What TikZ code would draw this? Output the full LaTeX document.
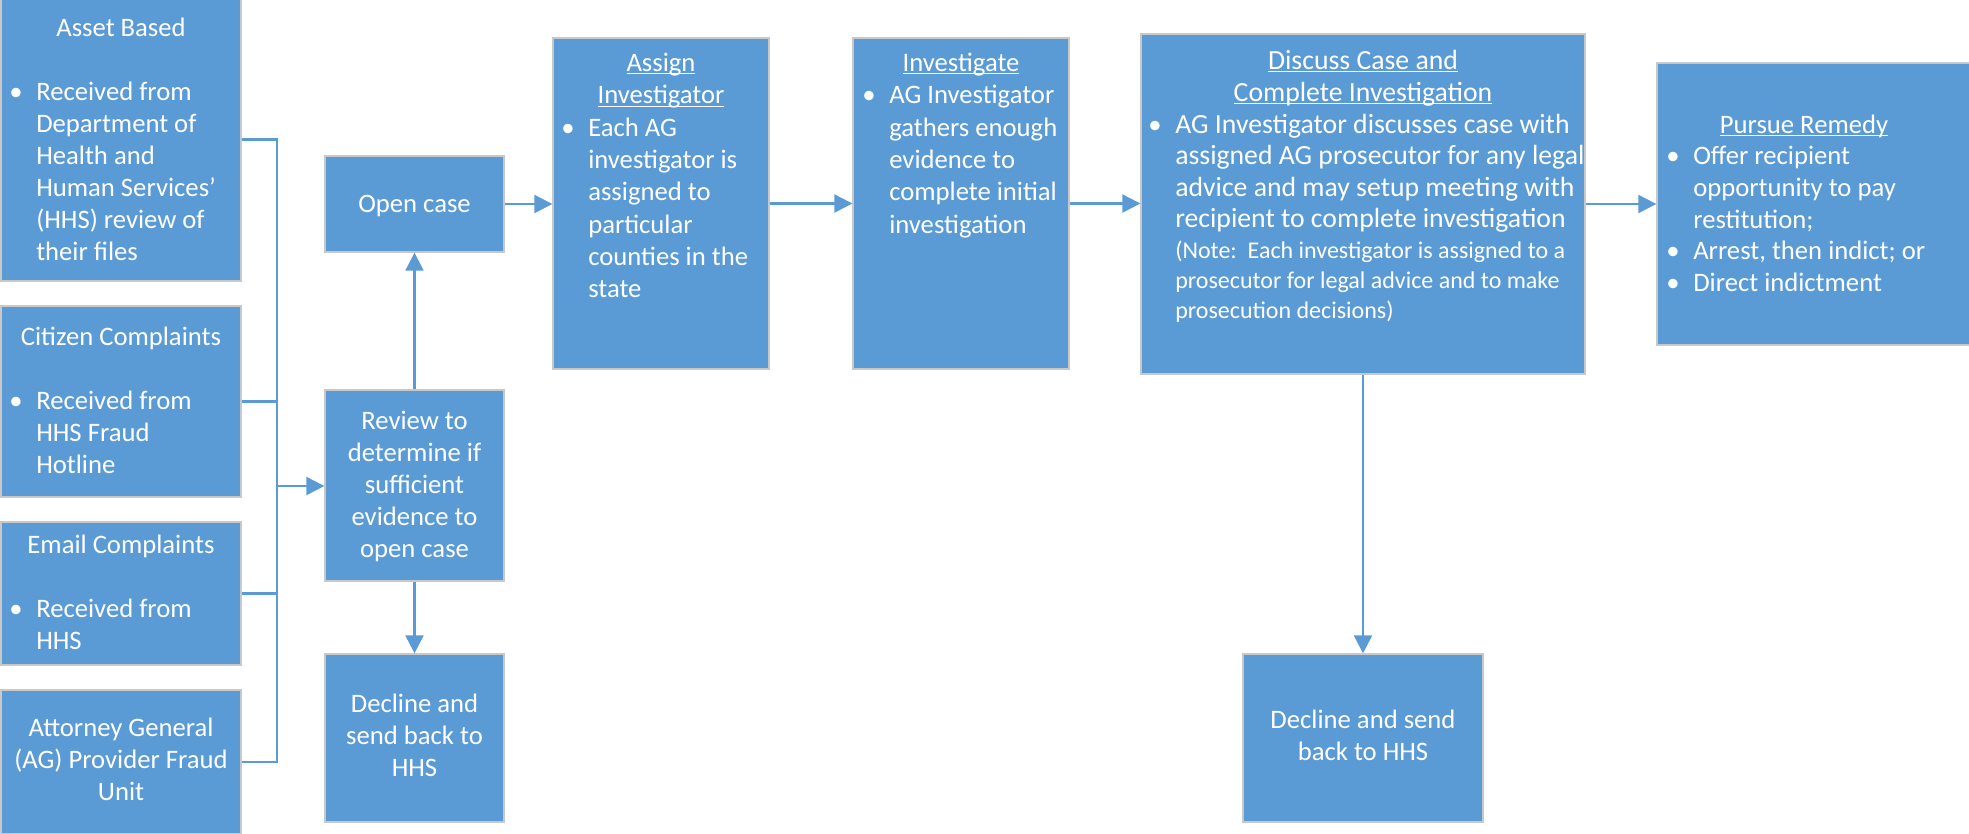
\documentclass[tikz,border=0pt]{standalone}
\usepackage{fontspec}
\setmainfont{Carlito}
\usetikzlibrary{arrows.meta,fit}
\definecolor{boxblue}{HTML}{5B9BD5}
\definecolor{edgegray}{HTML}{C8C8C8}
\newcounter{tl}
\newlength\ulw
\newcommand\myul[1]{\settowidth{\ulw}{#1}\rlap{\rule[-2.6pt]{\ulw}{0.8pt}}#1}
\newcommand\mainsize{\fontsize{20pt}{24pt}\selectfont}
\newcommand\discsize{\fontsize{20.8pt}{24pt}\selectfont}
\newcommand\notesize{\fontsize{18pt}{20pt}\selectfont}
% centred line
\newcommand\tc[3]{\stepcounter{tl}\node[txt,anchor=base] (t\thetl) at (#1,#2) {#3};}
% left line
\newcommand\tw[3]{\stepcounter{tl}\node[txt,anchor=base west] (t\thetl) at (#1,#2) {#3};}
% bulleted line
\newcommand\tb[3]{\stepcounter{tl}\node[txt,anchor=base] (b\thetl) at ({#1-20},#2) {•};\node[txt,anchor=base west] (t\thetl) at (#1,#2) {#3};}
\begin{document}
\begin{tikzpicture}[x=0.75pt,y=-0.75pt,
  box/.style={draw=edgegray,line width=1pt,fill=boxblue,inner sep=0pt},
  txt/.style={text=white,inner sep=0pt,font=\mainsize},
  ln/.style={draw=boxblue,line width=1.6pt},
  arr/.style={ln,-{Triangle[length=13.5pt,width=13.5pt]}}]
\useasboundingbox (0,0) rectangle (1969,833);

% boxes
\node[box,fit={(1,-2) (241,281)}] (asset) {};
\node[box,fit={(1,306) (241,497)}] (citizen) {};
\node[box,fit={(1,522) (241,665)}] (email) {};
\node[box,fit={(1,690) (241,834)}] (attorney) {};
\node[box,fit={(325,156) (504,252)}] (open) {};
\node[box,fit={(325,390) (504,581)}] (review) {};
\node[box,fit={(325,654) (504,822)}] (decline1) {};
\node[box,fit={(553,38) (769,369)}] (assign) {};
\node[box,fit={(853,38) (1069,369)}] (invest) {};
\node[box,fit={(1141,34) (1585,374)}] (discuss) {};
\node[box,fit={(1657,63) (1975,345)}] (pursue) {};
\node[box,fit={(1243,654) (1483,822)}] (decline2) {};

% connectors
\coordinate (bus) at (277,486);
\draw[ln] (asset.east) -| (bus);
\draw[ln] (citizen.east) -| (bus);
\draw[ln] (email.east) -| (bus);
\draw[ln] (attorney.east) -| (bus);
\draw[arr] (bus) -- (bus -| review.west);
\draw[arr] (review.north) -- (open.south);
\draw[arr] (review.south) -- (decline1.north);
\draw[arr] (open.east) -- (open.east -| assign.west);
\draw[arr] (assign.east) -- (assign.east -| invest.west);
\draw[arr] (invest.east) -- (invest.east -| discuss.west);
\draw[arr] (discuss.east) -- (discuss.east -| pursue.west);
\draw[arr] (discuss.south) -- (decline2.north);

% Asset Based
\tc{121}{36}{Asset Based}
\tb{36}{100}{Received from}
\tw{36}{132}{Department of}
\tw{36}{164}{Health and}
\tw{36}{196}{Human Services’}
\tw{36}{228}{(HHS) review of}
\tw{36}{260}{their files}
% Citizen
\tc{121}{345}{Citizen Complaints}
\tb{36}{409}{Received from}
\tw{36}{441}{HHS Fraud}
\tw{36}{473}{Hotline}
% Email
\tc{121}{553}{Email Complaints}
\tb{36}{617}{Received from}
\tw{36}{649}{HHS}
% Attorney
\tc{121}{736}{Attorney General}
\tc{121}{768}{(AG) Provider Fraud}
\tc{121}{800}{Unit}
% Open case
\tc{414.5}{212}{Open case}
% Review
\tc{414.5}{429}{Review to}
\tc{414.5}{461}{determine if}
\tc{414.5}{493}{sufficient}
\tc{414.5}{525}{evidence to}
\tc{414.5}{557}{open case}
% Decline 1
\tc{414.5}{712}{Decline and}
\tc{414.5}{744}{send back to}
\tc{414.5}{776}{HHS}
% Assign
\tc{661}{71}{\myul{Assign}}
\tc{661}{103.5}{\myul{Investigator}}
\tb{588}{136}{Each AG}
\tw{588}{168}{investigator is}
\tw{588}{200.5}{assigned to}
\tw{588}{233}{particular}
\tw{588}{265}{counties in the}
\tw{588}{297.5}{state}
% Investigate
\tc{961}{71}{\myul{Investigate}}
\tb{889}{103.5}{AG Investigator}
\tw{889}{136}{gathers enough}
\tw{889}{168}{evidence to}
\tw{889}{200.5}{complete initial}
\tw{889}{233}{investigation}
% Discuss
\tc{1363}{69}{\discsize\myul{Discuss Case and}}
\tc{1363}{101}{\discsize\myul{Complete Investigation}}
\tb{1175}{133}{\discsize AG Investigator discusses case with}
\tw{1175}{164}{\discsize assigned AG prosecutor for any legal}
\tw{1175}{196}{\discsize advice and may setup meeting with}
\tw{1175}{227}{\discsize recipient to complete investigation}
\tw{1175}{258}{\notesize (Note:\ \ Each investigator is assigned to a}
\tw{1175}{288}{\notesize prosecutor for legal advice and to make}
\tw{1175}{318}{\notesize prosecution decisions)}
% Pursue
\tc{1804}{133}{\myul{Pursue Remedy}}
\tb{1693}{164}{Offer recipient}
\tw{1693}{196}{opportunity to pay}
\tw{1693}{228}{restitution;}
\tb{1693}{259}{Arrest, then indict; or}
\tb{1693}{291}{Direct indictment}
% Decline 2
\tc{1363}{728}{Decline and send}
\tc{1363}{760}{back to HHS}
\end{tikzpicture}
\end{document}
